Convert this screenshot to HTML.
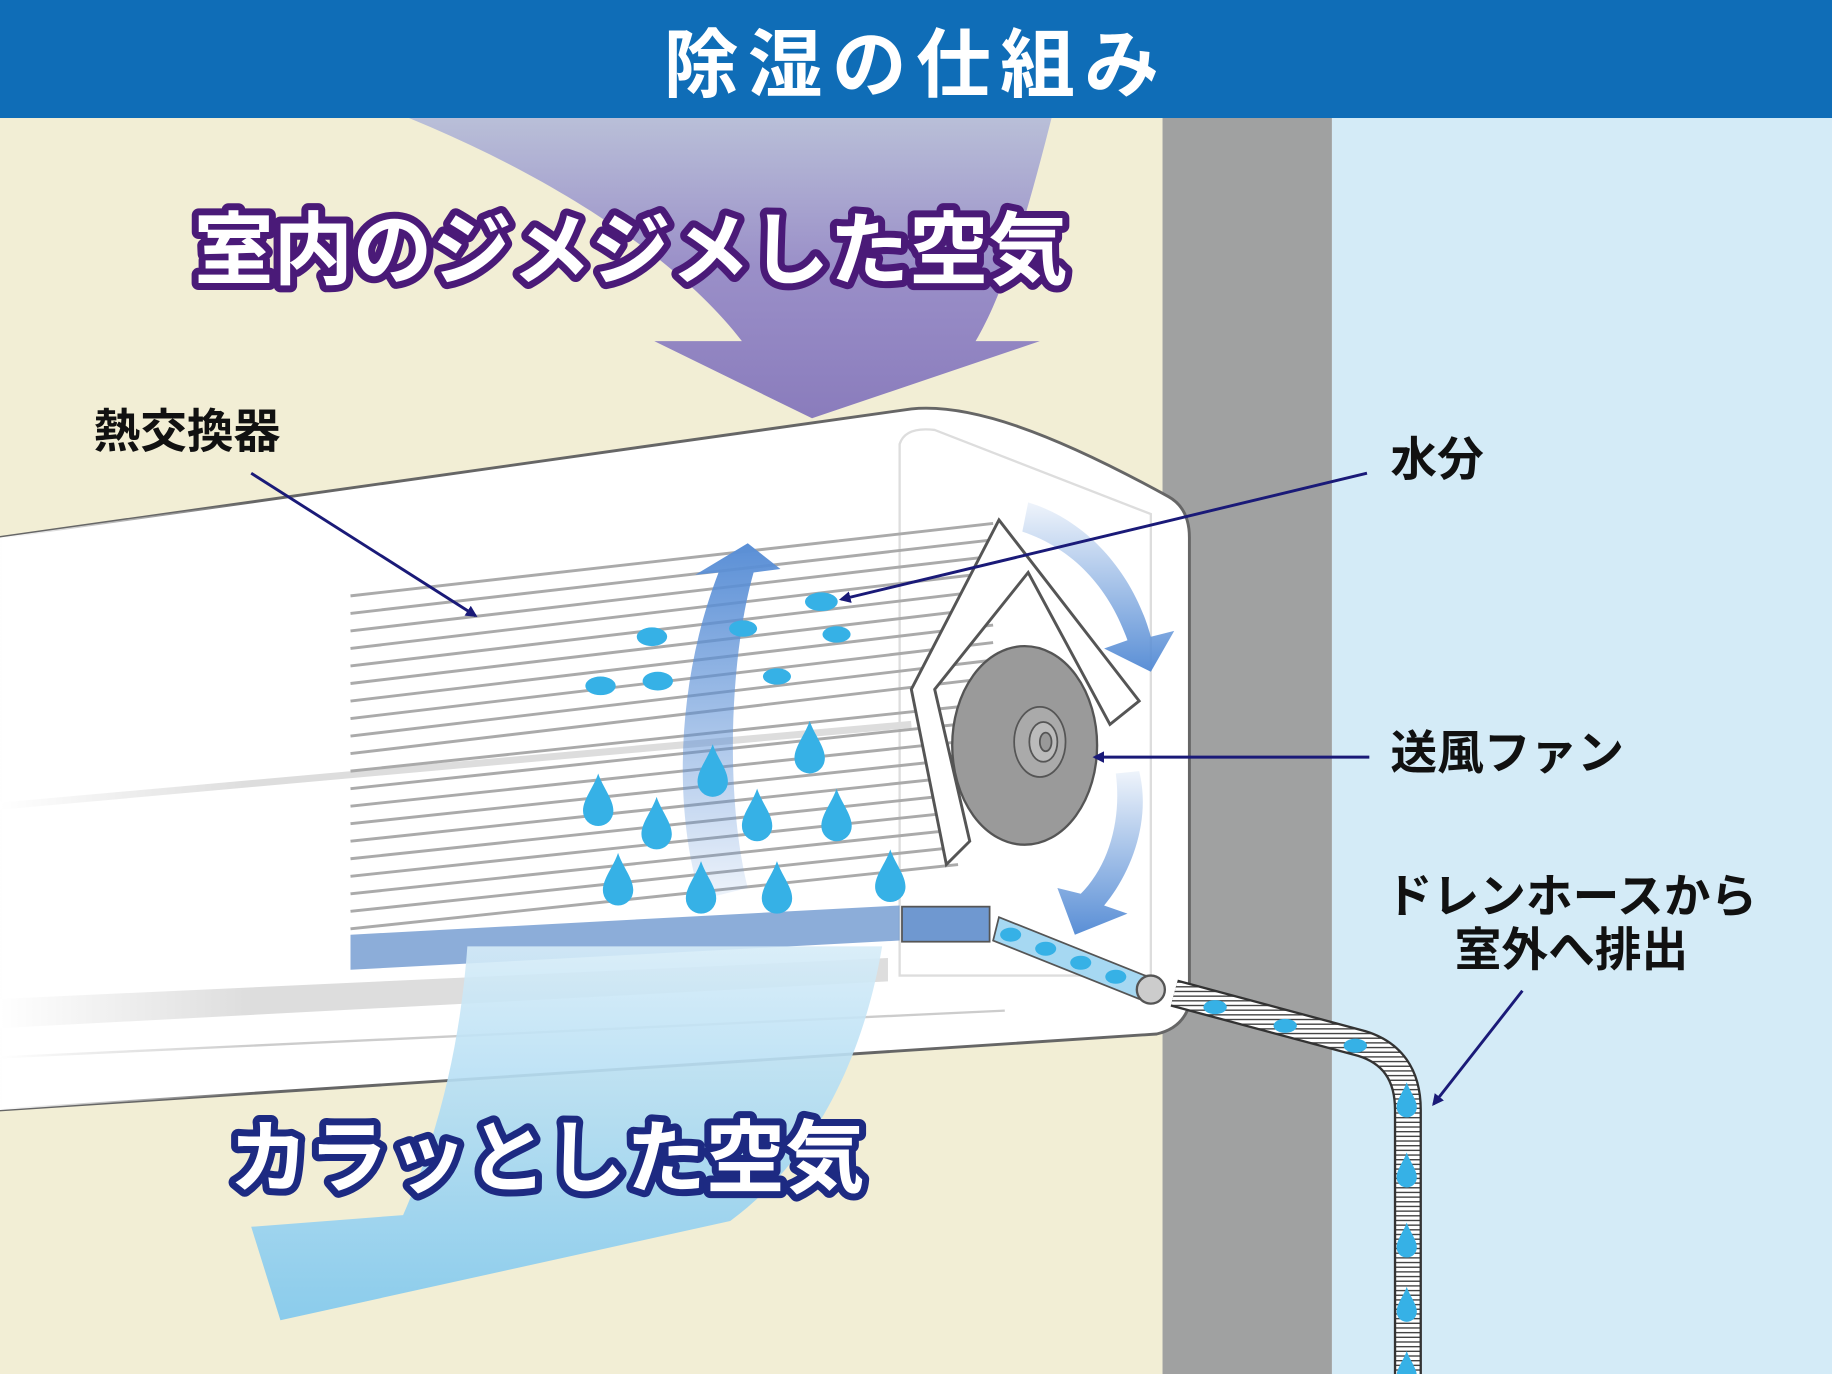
<!DOCTYPE html>
<html><head><meta charset="utf-8"><style>
html,body{margin:0;padding:0;width:1832px;height:1374px;overflow:hidden;background:#fff}
svg{display:block}
text{font-family:"Liberation Sans","Noto Sans CJK JP",sans-serif;font-weight:bold}
</style></head><body>
<svg width="1832" height="1374" viewBox="0 0 1568 1176" preserveAspectRatio="none" xmlns="http://www.w3.org/2000/svg">
<defs>
<linearGradient id="pg" x1="0" y1="0" x2="0" y2="1"><stop offset="0" stop-color="#b9bfd8"/><stop offset="0.5" stop-color="#9a8fc8"/><stop offset="1" stop-color="#8a7cbc"/></linearGradient>
<linearGradient id="bg" x1="0" y1="0" x2="0" y2="1"><stop offset="0" stop-color="#d6ecf8"/><stop offset="1" stop-color="#7fc8ee"/></linearGradient>
<linearGradient id="fadeL" x1="0" y1="0" x2="1" y2="0"><stop offset="0" stop-color="#fff" stop-opacity="1"/><stop offset="0.35" stop-color="#fff" stop-opacity="0"/></linearGradient>
<linearGradient id="arrB" x1="0" y1="0" x2="0" y2="1"><stop offset="0" stop-color="#5a8fd6"/><stop offset="1" stop-color="#5a8fd6" stop-opacity="0.1"/></linearGradient>
<linearGradient id="arrR" x1="0" y1="0" x2="0" y2="1"><stop offset="0" stop-color="#5a8fd6" stop-opacity="0.1"/><stop offset="1" stop-color="#5a8fd6"/></linearGradient>
<pattern id="stripe" width="6" height="4" patternUnits="userSpaceOnUse"><rect width="6" height="4" fill="#fff"/><rect width="6" height="1.2" fill="#444"/></pattern>
<marker id="ah" markerWidth="10" markerHeight="10" refX="8" refY="5" orient="auto" markerUnits="userSpaceOnUse" viewBox="0 0 10 10"><path d="M0,0 L10,5 L0,10 z" fill="#1a1a78"/></marker>
<symbol id="drop" viewBox="-15 -30 30 48"><path d="M0,-28 C4,-16 13,-6 13,4 A13,13 0 0 1 -13,4 C-13,-6 -4,-16 0,-28z" fill="#36b1e6"/></symbol>
<clipPath id="acclip"><path d="M0,460 L780,350 C830,345 900,370 1000,425 Q1018,435 1018,460 L1018,860 Q1012,880 990,885 L0,950z"/></clipPath>
</defs>
<rect x="0" y="0" width="995" height="1176" fill="#f2eed5"/>
<rect x="995" y="100" width="145" height="1076" fill="#a0a1a1"/>
<rect x="1140" y="100" width="428" height="1076" fill="#d4ebf7"/>
<rect x="0" y="0" width="1568" height="101" fill="#0f6db7"/>
<text x="784" y="78" font-size="64" fill="#fff" text-anchor="middle" letter-spacing="8">除湿の仕組み</text>
<path d="M350,101 L900,101 C880,180 860,250 835,292 L890,292 L695,358 L560,292 L635,292 C580,220 470,150 350,101z" fill="url(#pg)"/>
<path d="M0,460 L780,350 C830,345 900,370 1000,425 Q1018,435 1018,460 L1018,860 Q1012,880 990,885 L0,950z" fill="#fff" stroke="#666" stroke-width="2.5"/>
<path d="M770,380 Q775,365 800,368 L985,440 L985,835 L770,835z" fill="none" stroke="#ddd" stroke-width="2"/>
<path d="M0,690 L780,620" stroke="#ddd" stroke-width="6"/>
<path d="M0,855 L760,820 L760,840 L0,880z" fill="#ddd"/>
<path d="M0,905 L860,865" stroke="#ccc" stroke-width="2"/>
<g stroke="#aaa" stroke-width="2.5">
<line x1="300" y1="510" x2="850" y2="448"/><line x1="300" y1="525" x2="850" y2="462"/><line x1="300" y1="540" x2="850" y2="476"/><line x1="300" y1="555" x2="850" y2="490"/><line x1="300" y1="570" x2="850" y2="505"/><line x1="300" y1="585" x2="850" y2="520"/><line x1="300" y1="600" x2="850" y2="535"/><line x1="300" y1="615" x2="850" y2="550"/><line x1="300" y1="630" x2="850" y2="565"/><line x1="300" y1="645" x2="850" y2="580"/><line x1="300" y1="660" x2="820" y2="605"/><line x1="300" y1="675" x2="820" y2="620"/><line x1="300" y1="690" x2="820" y2="635"/><line x1="300" y1="705" x2="820" y2="650"/><line x1="300" y1="720" x2="820" y2="665"/><line x1="300" y1="735" x2="820" y2="680"/><line x1="300" y1="750" x2="820" y2="695"/><line x1="300" y1="765" x2="820" y2="710"/><line x1="300" y1="780" x2="820" y2="725"/><line x1="300" y1="795" x2="820" y2="740"/>
</g>
<rect x="0" y="340" width="620" height="620" fill="url(#fadeL)" clip-path="url(#acclip)"/>
<path d="M855,445 L975,600 L950,620 L880,490 L800,590 L830,720 L810,740 L780,590z" fill="#fff" stroke="#555" stroke-width="2.5"/>
<ellipse cx="877" cy="638" rx="62" ry="85" fill="#9a9a9a" stroke="#555" stroke-width="2"/>
<ellipse cx="890" cy="635" rx="22" ry="30" fill="#aaa" stroke="#555" stroke-width="1.5"/>
<ellipse cx="893" cy="635" rx="12" ry="17" fill="#bbb" stroke="#555" stroke-width="1.5"/>
<ellipse cx="895" cy="635" rx="5" ry="8" fill="#999" stroke="#555" stroke-width="1.5"/>
<path d="M600,770 C575,690 580,580 615,490 L595,492 L640,465 L668,487 L645,490 C625,560 620,680 640,760z" fill="url(#arrB)"/>
<path d="M880,430 C930,445 970,490 985,545 L1005,540 L985,575 L945,555 L965,548 C950,505 920,470 875,455z" fill="url(#arrR)"/>
<path d="M975,660 C985,700 970,745 945,775 L965,782 L920,800 L905,760 L925,765 C950,740 960,700 955,662z" fill="url(#arrR)"/>
<path d="M300,800 L770,775 L770,805 L300,830z" fill="#6f98d0" opacity="0.8"/>
<rect x="772" y="776" width="75" height="30" fill="#6f98d0" stroke="#555" stroke-width="1.5"/>
<path d="M855,785 L980,835 L975,855 L850,805z" fill="#a6d8f2" stroke="#555" stroke-width="1.5"/>
<circle cx="985" cy="847" r="12" fill="#ccc" stroke="#555" stroke-width="2"/>
<path d="M1005,850 L1165,893 Q1205,905 1205,950 L1205,1176" fill="none" stroke="#333" stroke-width="24"/>
<path d="M1005,850 L1165,893 Q1205,905 1205,950 L1205,1176" fill="none" stroke="url(#stripe)" stroke-width="20"/>
<path d="M400,810 L755,810 C740,900 700,990 625,1045 L240,1130 L215,1050 L345,1040 C380,960 395,880 400,810z" fill="url(#bg)" opacity="0.9"/>
<g fill="#36b1e6"><ellipse cx="703" cy="515" rx="14" ry="8"/><ellipse cx="558" cy="545" rx="13" ry="8"/><ellipse cx="636" cy="538" rx="12" ry="7"/><ellipse cx="716" cy="543" rx="12" ry="7"/><ellipse cx="514" cy="587" rx="13" ry="8"/><ellipse cx="563" cy="583" rx="13" ry="8"/><ellipse cx="665" cy="579" rx="12" ry="7"/>
<ellipse cx="865" cy="800" rx="9" ry="6"/><ellipse cx="895" cy="812" rx="9" ry="6"/><ellipse cx="925" cy="824" rx="9" ry="6"/><ellipse cx="955" cy="836" rx="9" ry="6"/>
<ellipse cx="1040" cy="862" rx="10" ry="6"/><ellipse cx="1100" cy="878" rx="10" ry="6"/><ellipse cx="1160" cy="895" rx="10" ry="6"/></g>
<use href="#drop" x="497" y="660" width="30" height="48"/><use href="#drop" x="547" y="680" width="30" height="48"/><use href="#drop" x="595" y="635" width="30" height="48"/><use href="#drop" x="678" y="615" width="30" height="48"/><use href="#drop" x="633" y="673" width="30" height="48"/><use href="#drop" x="701" y="673" width="30" height="48"/><use href="#drop" x="514" y="728" width="30" height="48"/><use href="#drop" x="585" y="735" width="30" height="48"/><use href="#drop" x="650" y="735" width="30" height="48"/><use href="#drop" x="747" y="725" width="30" height="48"/>
<use href="#drop" x="1194" y="925" width="20" height="32"/><use href="#drop" x="1194" y="985" width="20" height="32"/><use href="#drop" x="1194" y="1045" width="20" height="32"/><use href="#drop" x="1194" y="1100" width="20" height="32"/><use href="#drop" x="1194" y="1155" width="20" height="32"/>
<text x="540" y="238" font-size="68" text-anchor="middle" fill="#fff" stroke="#4a1a78" stroke-width="12" stroke-linejoin="round" paint-order="stroke">室内のジメジメした空気</text>
<text x="468" y="1015" font-size="68" text-anchor="middle" fill="#fff" stroke="#1d2a82" stroke-width="12" stroke-linejoin="round" paint-order="stroke">カラッとした空気</text>
<g font-size="40" fill="#111">
<text x="80" y="383">熱交換器</text>
<text x="1190" y="407">水分</text>
<text x="1190" y="658">送風ファン</text>
<text x="1345" y="781" text-anchor="middle">ドレンホースから</text>
<text x="1345" y="827" text-anchor="middle">室外へ排出</text>
</g>
<g stroke="#1a1a78" stroke-width="2.5" fill="none" marker-end="url(#ah)">
<line x1="215" y1="405" x2="407" y2="527"/>
<line x1="1170" y1="405" x2="720" y2="513"/>
<line x1="1172" y1="648" x2="937" y2="648"/>
<line x1="1303" y1="848" x2="1227" y2="945"/>
</g>
</svg>
</body></html>
